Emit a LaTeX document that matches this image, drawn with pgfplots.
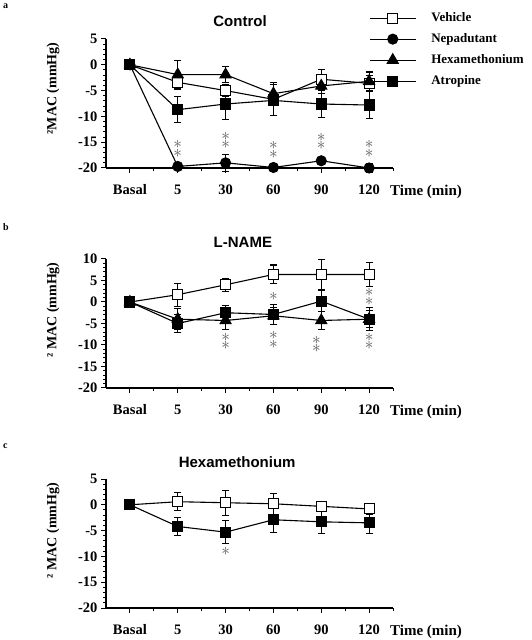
\documentclass[border=0pt]{standalone}
\usepackage{fontspec}
\setmainfont{Liberation Serif}
\newfontfamily\titlefont{Liberation Sans}
\usepackage{pgfplots}
\pgfplotsset{compat=1.18}

\pgfplotsset{
  panel/.style={
    anchor=south west, scale only axis, width=287pt,
    xmin=-0.5, xmax=5.5, ymin=-20,
    axis lines=left, axis line style={-, line width=1.1pt},
    tick align=outside, major tick length=5pt, minor tick length=3pt,
    tick style={line width=1pt, black},
    xtick={0,...,5}, xticklabels={Basal,5,30,60,90,120},
    minor xtick={0.5,1.5,...,5.5},
    minor y tick num=4,
    /pgf/number format/assume math mode=true,
    tick label style={font=\bfseries\fontsize{14.5}{14.5}\selectfont},
    xticklabel style={yshift=-8pt},
    clip=false,
    error bars/y dir=both, error bars/y explicit,
    error bars/error bar style={line width=1.1pt, black},
    error bars/error mark options={rotate=90, mark size=3.5pt, line width=1.1pt, black},
  },
  veh/.style={black, line width=1.1pt, mark=square*, mark size=5pt, mark options={fill=white, draw=black, solid, line width=1.1pt}},
  nep/.style={black, line width=1.1pt, mark=*, mark size=5pt, mark options={fill=black, draw=black, solid}},
  hex/.style={black, line width=1.1pt, mark=triangle*, mark size=6.3pt, mark options={fill=black, draw=black, solid}},
  atr/.style={black, line width=1.1pt, mark=square*, mark size=5pt, mark options={fill=black, draw=black, solid}},
}
\newcommand{\st}[2]{\node[text=black!65, inner sep=0pt] at (axis cs:#1,#2) {\fontsize{16}{16}\selectfont$\ast$};}
\newcommand{\dst}[2]{\node[text=black!65, inner sep=0pt, align=center, font=\fontsize{16}{8.5}\selectfont] at (axis cs:#1,#2) {$\ast$\\$\ast$};}
\newcommand{\timelabel}{\node[anchor=west, inner sep=0pt, font=\bfseries\fontsize{15}{15}\selectfont] at (rel axis cs:1,0) [xshift=-3pt, yshift=-24pt] {Time (min)};}
\newcommand{\ylab}[2]{\node[rotate=90, inner sep=0pt, font=\bfseries\fontsize{14}{14}\selectfont] at ([xshift=-53pt]rel axis cs:0,#1) {#2};}

\begin{document}
\begin{tikzpicture}
\useasboundingbox (0,0) rectangle (532pt,640pt);

% ---------- panel a ----------
\node[anchor=north west, inner sep=0pt, font=\bfseries\fontsize{10}{10}\selectfont] at (3pt,636pt) {a};
\begin{axis}[panel, at={(106pt,472pt)}, height=129pt, ymax=5,
  ytick={-20,-15,...,5},
  legend cell align=left,
  legend image code/.code={\draw[mark repeat=2,mark phase=2] plot coordinates {(0pt,0pt)(23pt,0pt)(46pt,0pt)};},
  legend style={at={(0.906,1.233)}, anchor=north west, draw=none, fill=none,
    font=\bfseries\fontsize{13}{13}\selectfont, row sep=7pt,
    nodes={inner sep=1pt, text height=9pt, text depth=3pt},
    /tikz/every even column/.append style={column sep=0pt},
    /tikz/every odd column/.append style={column sep=14pt}},
]
\addplot[veh] table[x=x, y=y, y error=e] {
x y e
0 0 0
1 -3.4 1.4
2 -5.0 1.2
3 -6.7 1.0
4 -2.8 1.9
5 -3.6 1.6
};
\addlegendentry{Vehicle}
\addplot[nep] table[x=x, y=y, y error=e] {
x y e
0 0 0
1 -19.7 0.6
2 -19.0 1.6
3 -19.9 0.8
4 -18.6 0.6
5 -20.0 0.8
};
\addlegendentry{Nepadutant}
\addplot[hex] table[x=x, y=y, y error=e] {
x y e
0 0 0.8
1 -1.9 2.7
2 -1.9 1.5
3 -5.6 2.2
4 -4.1 1.5
5 -3.2 1.8
};
\addlegendentry{Hexamethonium}
\addplot[atr] table[x=x, y=y, y error=e] {
x y e
0 0 0
1 -8.7 2.5
2 -7.6 3.0
3 -6.9 3.0
4 -7.6 2.6
5 -7.8 2.6
};
\addlegendentry{Atropine}
\dst{1}{-16.3}
\dst{2}{-14.7}
\dst{3}{-16.5}
\dst{4}{-14.9}
\dst{5}{-16.3}
\node[font=\titlefont\bfseries\fontsize{15}{15}\selectfont] at (rel axis cs:0.467,1) [yshift=18pt] {Control};
\timelabel
\ylab{0.616}{²MAC (mmHg)}
\end{axis}

% ---------- panel b ----------
\node[anchor=north west, inner sep=0pt, font=\bfseries\fontsize{10}{10}\selectfont] at (3pt,417pt) {b};
\begin{axis}[panel, at={(106pt,252pt)}, height=129pt, ymax=10,
  ytick={-20,-15,...,10},
]
\addplot[veh] table[x=x, y=y, y error=e] {
x y e
0 0 0
1 1.7 2.7
2 4.0 1.5
3 6.4 2.2
4 6.4 3.5
5 6.4 2.7
};
\addplot[hex] table[x=x, y=y, y error=e] {
x y e
0 0 0.8
1 -4.0 2.5
2 -4.3 2.0
3 -3.2 2.0
4 -4.3 2.0
5 -4.0 2.0
};
\addplot[atr] table[x=x, y=y, y error=e] {
x y e
0 0 0
1 -5.0 2.0
2 -2.5 1.6
3 -2.9 2.4
4 0.2 2.4
5 -4.0 2.7
};
\dst{2}{-9.2}
\st{3}{1.3}
\dst{3}{-8.8}
\dst{3.9}{-9.85}
\dst{5}{1.15}
\dst{5}{-9.15}
\node[font=\titlefont\bfseries\fontsize{15}{15}\selectfont] at (rel axis cs:0.477,1) [yshift=17pt] {L-NAME};
\timelabel
\ylab{0.605}{² MAC (mmHg)}
\end{axis}

% ---------- panel c ----------
\node[anchor=north west, inner sep=0pt, font=\bfseries\fontsize{10}{10}\selectfont] at (3pt,196pt) {c};
\begin{axis}[panel, at={(106pt,32pt)}, height=129pt, ymax=5,
  ytick={-20,-15,...,5},
]
\addplot[veh] table[x=x, y=y, y error=e] {
x y e
0 0 0
1 0.6 1.7
2 0.4 2.4
3 0.2 2.0
4 -0.3 0.8
5 -0.8 1.0
};
\addplot[atr] table[x=x, y=y, y error=e] {
x y e
0 0 0
1 -4.2 1.8
2 -5.3 2.2
3 -2.9 2.4
4 -3.3 2.3
5 -3.5 2.1
};
\st{2}{-9.0}
\node[font=\titlefont\bfseries\fontsize{15}{15}\selectfont] at (rel axis cs:0.457,1) [yshift=17pt] {Hexamethonium};
\timelabel
\ylab{0.6}{² MAC (mmHg)}
\end{axis}
\end{tikzpicture}
\end{document}
